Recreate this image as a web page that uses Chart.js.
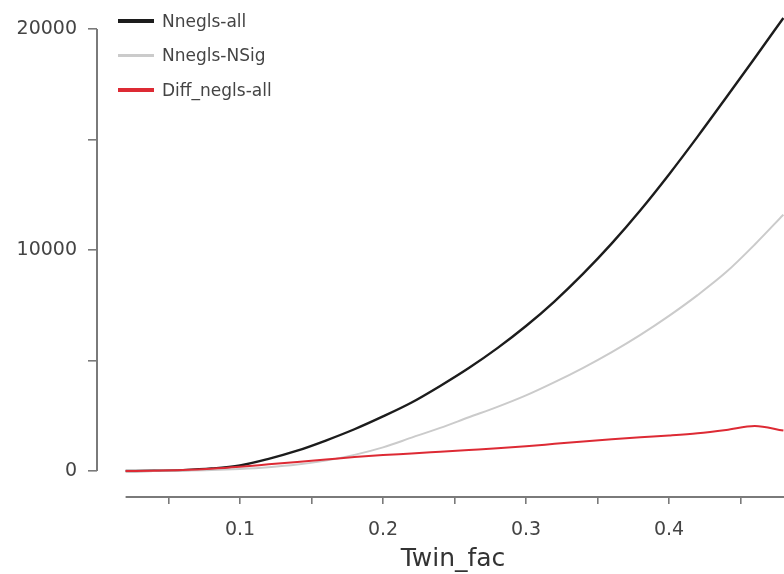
<!DOCTYPE html>
<html>
<head>
<meta charset="utf-8">
<script src="https://cdn.jsdelivr.net/npm/chart.js@4.4.1/dist/chart.umd.min.js"></script>
<style>
  html, body { margin: 0; padding: 0; background: #ffffff; overflow: hidden; }
  #wrap { position: relative; width: 784px; height: 574px; }
  #legend { position: absolute; left: 0; top: 0; font-family: "DejaVu Sans", sans-serif; font-size: 17px; color: #444; }
  .item { position: absolute; left: 118px; height: 20px; white-space: nowrap; }
  .swatch { position: absolute; left: 0; width: 36px; }
  .label { position: absolute; left: 44px; top: 0; line-height: 20px; }
  #xtitle { position: absolute; left: 353px; width: 200px; top: 543px; height: 30px; line-height: 30px; text-align: center;
            font-family: "DejaVu Sans", sans-serif; font-size: 25px; color: #333; }
</style>
</head>
<body>
<div id="wrap">
  <canvas id="c" width="784" height="574"></canvas>
  <div id="legend"></div>
  <div id="xtitle"></div>
</div>
<script>
// ---- data ----
const twinFac = [0.02,0.04,0.06,0.08,0.10,0.12,0.14,0.16,0.18,0.20,0.22,0.24,0.26,0.28,0.30,0.32,0.34,0.36,0.38,0.40,0.42,0.44,0.46,0.48];
const nneglsAll = [0,10,40,110,250,550,920,1380,1890,2470,3100,3850,4660,5560,6560,7680,8930,10300,11800,13420,15130,16900,18690,20500];
const nneglsNSig = [0,5,15,40,90,170,290,470,730,1070,1510,1950,2430,2900,3420,4020,4670,5380,6160,7020,7960,9000,10250,11600];
const diffNeglsAll = [0,10,40,100,190,300,410,520,630,720,790,870,950,1030,1120,1230,1340,1440,1530,1610,1710,1860,2040,1830];
const seriesNames = ["Nnegls-all", "Nnegls-NSig", "Diff_negls-all"];
const xTickValues = [0.05,0.10,0.15,0.20,0.25,0.30,0.35,0.40,0.45];
const xTickLabels = ["0.1","0.2","0.3","0.4"];
const yTickValues = [0,5000,10000,15000,20000];
const yTickLabels = ["0","10000","20000"];
const xAxisTitle = "Twin_fac";

const pts = ys => twinFac.map((x, i) => ({ x: x, y: ys[i] }));
const seriesStyle = [
  { color: "#1c1c1c", width: 2.4, legendH: 4 },
  { color: "#cbcbcb", width: 2, legendH: 3 },
  { color: "#dd2a34", width: 2, legendH: 4 }
];
const seriesData = [nneglsAll, nneglsNSig, diffNeglsAll];

const datasets = seriesData.map((d, i) => ({
  label: seriesNames[i],
  data: pts(d),
  borderColor: seriesStyle[i].color,
  borderWidth: seriesStyle[i].width,
  pointRadius: 0,
  fill: false,
  cubicInterpolationMode: "monotone"
})).reverse();

// R-style detached axis lines
const axisLines = {
  id: "axisLines",
  afterDraw(chart) {
    const ctx = chart.ctx, xs = chart.scales.x, ys = chart.scales.y, a = chart.chartArea;
    ctx.save();
    ctx.strokeStyle = "#7a7a7a";
    ctx.lineWidth = 2;
    ctx.beginPath();
    ctx.moveTo(a.left, ys.getPixelForValue(yTickValues[0]));
    ctx.lineTo(a.left, ys.getPixelForValue(yTickValues[yTickValues.length - 1]));
    ctx.stroke();
    ctx.beginPath();
    ctx.moveTo(xs.getPixelForValue(twinFac[0]), a.bottom);
    ctx.lineTo(a.right, a.bottom);
    ctx.stroke();
    ctx.restore();
  }
};

const yPx0 = 471, yPx20000 = 29, plotBottom = 497;
const unitsPerPx = 20000 / (yPx0 - yPx20000);

new Chart(document.getElementById("c"), {
  type: "line",
  data: { datasets: datasets },
  plugins: [axisLines],
  options: {
    responsive: false,
    devicePixelRatio: 1,
    animation: false,
    layout: { padding: 0 },
    plugins: { legend: { display: false }, tooltip: { enabled: false } },
    scales: {
      x: {
        type: "linear",
        min: 0,
        max: (784 - 97) / 1430,
        afterFit: s => { s.height = 574 - plotBottom; s.paddingLeft = 0; s.paddingRight = 0; },
        afterBuildTicks: s => { s.ticks = xTickValues.map(v => ({ value: v })); },
        border: { display: false },
        grid: { drawOnChartArea: false, drawTicks: true, tickLength: 7, color: "#7a7a7a", lineWidth: 1.6 },
        ticks: {
          autoSkip: false, maxRotation: 0,
          padding: 15,
          color: "#444",
          font: { family: "DejaVu Sans", size: 19 },
          callback: v => { const t = v.toFixed(1); return (Math.abs(v * 10 - Math.round(v * 10)) < 1e-6 && xTickLabels.includes(t)) ? t : ""; }
        },
        title: { display: false }
      },
      y: {
        type: "linear",
        min: -(plotBottom - yPx0) * unitsPerPx,
        max: yPx0 * unitsPerPx,
        afterFit: s => { s.width = 97; s.paddingTop = 0; s.paddingBottom = 0; },
        afterBuildTicks: s => { s.ticks = yTickValues.map(v => ({ value: v })); },
        border: { display: false },
        grid: { drawOnChartArea: false, drawTicks: true, tickLength: 9, color: "#7a7a7a", lineWidth: 1.6 },
        ticks: {
          autoSkip: false,
          padding: 11,
          color: "#444",
          font: { family: "DejaVu Sans", size: 19 },
          callback: v => yTickLabels.includes(String(v)) ? String(v) : ""
        }
      }
    }
  }
});

document.getElementById("xtitle").textContent = xAxisTitle;

// HTML legend
const legendEl = document.getElementById("legend");
const legendY = [11, 45, 80];
seriesNames.forEach((n, i) => {
  const it = document.createElement("div");
  it.className = "item";
  it.style.top = legendY[i] + "px";
  const sw = document.createElement("div");
  sw.className = "swatch";
  sw.style.height = seriesStyle[i].legendH + "px";
  sw.style.top = (10 - seriesStyle[i].legendH / 2) + "px";
  sw.style.background = seriesStyle[i].color;
  const lb = document.createElement("span");
  lb.className = "label";
  lb.textContent = n;
  it.appendChild(sw); it.appendChild(lb);
  legendEl.appendChild(it);
});
</script>
</body>
</html>
